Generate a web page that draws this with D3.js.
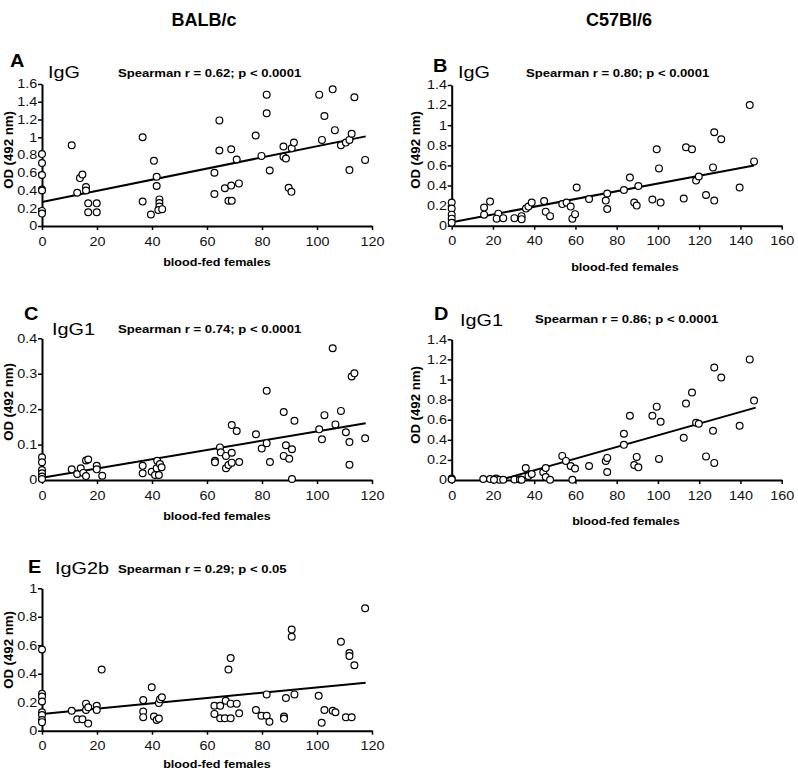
<!DOCTYPE html>
<html><head><meta charset="utf-8">
<script src="https://cdn.jsdelivr.net/npm/d3@7"></script>
<style>body{margin:0;background:#fff}svg{display:block}text{font-family:Arial,"Liberation Sans",sans-serif}</style>
</head><body><svg id="c" width="798" height="775"></svg>
<script>
// ---------------- DATA ----------------
const strains = ["BALB/c", "C57Bl/6"];
const panelLetters = ["A", "B", "C", "D", "E"];
const isotypes = ["IgG", "IgG", "IgG1", "IgG1", "IgG2b"];
const stats = ["Spearman r = 0.62; p < 0.0001", "Spearman r = 0.80; p < 0.0001",
  "Spearman r = 0.74; p < 0.0001", "Spearman r = 0.86; p < 0.0001", "Spearman r = 0.29; p < 0.05"];
const xLabel = "blood-fed females";
const yLabel = "OD (492 nm)";
const xTicksBalb = [0, 20, 40, 60, 80, 100, 120];
const xTicksC57 = [0, 20, 40, 60, 80, 100, 120, 140, 160];
const yTicksA = [0, 0.2, 0.4, 0.6, 0.8, 1, 1.2, 1.4, 1.6];
const yTicksB = [0, 0.2, 0.4, 0.6, 0.8, 1, 1.2, 1.4];
const yTicksC = [0, 0.1, 0.2, 0.3, 0.4];
const yTicksD = [0, 0.2, 0.4, 0.6, 0.8, 1, 1.2, 1.4];
const yTicksE = [0, 0.2, 0.4, 0.6, 0.8, 1];

const aX = [0,0,0,0,0,0,0, 10.8,13.8,14.7,16,16,12.8,16.8,16.8,19.9,19.9, 36.6,36.6,40.7,41.7,41.7,39.6,42.7,42.7,42.7,42.3,43.7,
  62.7,62.7,64.5,64.5,66.5,67.8,69,68.8,68.8,70.8,71.6,77.7,79.8,81.7,81.7,82.8,87.8,87.8,88.7,90.8,91.6,89.7,90.7,
  100.8,101.8,102.7,105.7,106.5,108.7,110.5,111.8,112.6,111.8,113.6,117.5];
const aY = [0.81,0.71,0.575,0.41,0.40,0.17,0.14, 0.91,0.54,0.58,0.44,0.40,0.375,0.255,0.155,0.255,0.155, 1.0,0.275,0.735,0.555,0.45,0.13,0.30,0.26,0.22,0.18,0.19,
  0.60,0.36,1.19,0.85,0.425,0.285,0.285,0.455,0.865,0.75,0.48,1.02,0.79,1.48,1.27,0.625,0.895,0.78,0.76,0.875,0.94,0.43,0.385,
  1.48,0.97,1.24,1.54,1.08,0.91,0.94,0.97,1.04,0.63,1.45,0.745];
const aFit = [[0, 0.27], [117.7, 1.01]];

const bX = [0,0,0,0,0, 15.7,15.7,18.6,22.6,21.8,25,30.4,33.9,33.9,36,37.2,38.8,44.8,45.6,47.7,53.6,55.7,57.7,58.5,59.8,60.6,66.6,
  74.7,75.4,75.4,83.5,86.4,88.5,89.7,90.5,97.3,99.4,100.5,101.3,112.5,113.6,116.5,118.5,119.8,123.3,126.7,127.3,127.3,130.7,139.6,144.5,146.6];
const bY = [0.23,0.17,0.11,0.07,0.03, 0.18,0.11,0.24,0.12,0.07,0.075,0.075,0.095,0.065,0.17,0.19,0.23,0.245,0.14,0.095,0.215,0.23,0.19,0.07,0.115,0.38,0.265,
  0.25,0.32,0.165,0.355,0.48,0.23,0.2,0.395,0.26,0.76,0.57,0.23,0.27,0.78,0.76,0.45,0.49,0.305,0.58,0.93,0.25,0.86,0.38,1.2,0.64];
const bFit = [[0, 0.035], [146.6, 0.6]];

const cX = [0,0,0,0,0,0, 10.8,12.8,14.1,15,16,16.8,16,19.9,19.9,21.9, 36.6,36.6,39.9,41.1,41.7,41.9,42.5,42.9,43.5,
  62.9,62.9,64.7,65,66.9,66.9,67.8,69,69,69,70.8,71.7,77.8,79.9,81.7,81.7,82.9,87.9,87.9,88.7,89.9,90.9,90.9,91.8,
  100.8,101.8,102.7,105.7,106.7,108.7,110.5,111.8,111.8,112.6,113.6,117.5];
const cY = [0.064,0.05,0.028,0.019,0.01,0.003, 0.03,0.017,0.033,0.02,0.055,0.058,0.011,0.04,0.03,0.012, 0.04,0.019,0.023,0.014,0.033,0.054,0.014,0.045,0.036,
  0.054,0.05,0.092,0.078,0.068,0.033,0.042,0.077,0.049,0.155,0.138,0.051,0.129,0.089,0.252,0.104,0.051,0.192,0.068,0.098,0.06,0.087,0.003,0.167,
  0.143,0.115,0.183,0.372,0.157,0.195,0.135,0.107,0.043,0.292,0.301,0.118];
const cFit = [[0, 0.0065], [117.7, 0.16]];

const dX = [0,0, 15.3,18.6,21.5,23.1,25,20.5,30.4,33.1,33.9,35.9,37.2,38.8,44.4,45.6,45.6,47.7,53.6,55.4,57.7,59.8,58.5,66.6,
  74.7,75.4,75.4,83.5,83.5,86.4,88.5,89.7,90.5,97.3,99.4,100.5,101.3,112.5,113.6,116.5,118.5,119.8,123.3,126.7,127.3,127.3,130.7,139.6,144.5,146.6];
const dY = [0.015,0.005, 0.01,0.01,0.015,0.003,0.003,0.003,0.005,0.005,0.003,0.12,0.04,0.06,0.077,0.12,0.03,0.003,0.24,0.19,0.14,0.115,0.003,0.14,
  0.19,0.22,0.08,0.46,0.35,0.64,0.15,0.23,0.126,0.64,0.73,0.21,0.58,0.42,0.76,0.87,0.57,0.56,0.235,0.49,1.12,0.17,1.02,0.54,1.2,0.79];
const dFit = [[23.3, 0], [147.4, 0.72]];

const eX = [0,0,0,0,0,0,0,0, 10.8,12.8,14.7,16,16,16.8,16.8,19.9,19.9,21.7, 36.8,36.8,36.8,39.9,40.7,41.7,42.5,42.5,42.9,43.6,
  62.7,62.7,64.8,64.8,66.8,66.5,67.8,68.6,68.6,68.6,70.8,71.7,77.8,79.8,81.7,81.7,82.7,88,88,88.7,90.8,90.8,91.8,
  100.6,101.7,102.7,105.7,106.7,108.7,110.5,112.6,111.8,111.8,113.6,117.5];
const eY = [0.57,0.26,0.24,0.205,0.13,0.11,0.075,0.06, 0.14,0.08,0.08,0.19,0.145,0.165,0.05,0.175,0.145,0.43, 0.215,0.135,0.095,0.305,0.1,0.075,0.085,0.195,0.22,0.235,
  0.175,0.118,0.175,0.087,0.21,0.087,0.43,0.51,0.19,0.087,0.19,0.122,0.145,0.105,0.105,0.255,0.063,0.1,0.085,0.23,0.71,0.66,0.255,
  0.245,0.056,0.145,0.14,0.13,0.625,0.094,0.094,0.545,0.525,0.46,0.86];
const eFit = [[0, 0.117], [117.7, 0.337]];

// ---------------- LAYOUT ----------------
const svg = d3.select("#c");
const FONT = 'Arial,"Liberation Sans",sans-serif';

function txt(x, y, s, size, weight, sx, anchor, rot) {
  return svg.append("text")
    .attr("transform", `translate(${x},${y})` + (rot ? ` rotate(${rot})` : "") + ` scale(${sx},1)`)
    .attr("font-size", size).attr("font-weight", weight || "normal")
    .attr("text-anchor", anchor || "start").attr("fill", "#000").text(s);
}

txt(204, 26, strains[0], 18, "bold", 1.0, "middle");
txt(619, 26, strains[1], 18, "bold", 1.0, "middle");

const panels = [
  {i:0, L:42, R:372, T:84, B:226, xd:[0,120], yd:[0,1.6], xt:xTicksBalb, yt:yTicksA, xs:aX, ys:aY, fit:aFit,
   letter:[10,67], iso:[48,78], st:[118,77], ylab:[9,150], xlab:[217,266]},
  {i:1, L:451.7, R:781.7, T:85, B:225.7, xd:[0,160], yd:[0,1.4], xt:xTicksC57, yt:yTicksB, xs:bX, ys:bY, fit:bFit,
   letter:[433,72], iso:[458,78], st:[526,77], ylab:[416,150], xlab:[625,271]},
  {i:2, L:42, R:372, T:338.3, B:480, xd:[0,120], yd:[0,0.4], xt:xTicksBalb, yt:yTicksC, xs:cX, ys:cY, fit:cFit,
   letter:[24,320], iso:[52,335], st:[118,333], ylab:[9,402], xlab:[217,520]},
  {i:3, L:451.7, R:781.7, T:339.3, B:480, xd:[0,160], yd:[0,1.4], xt:xTicksC57, yt:yTicksD, xs:dX, ys:dY, fit:dFit,
   letter:[434,320], iso:[460,326], st:[535,323], ylab:[416,405], xlab:[626,525]},
  {i:4, L:42, R:372, T:588.3, B:730.7, xd:[0,120], yd:[0,1], xt:xTicksBalb, yt:yTicksE, xs:eX, ys:eY, fit:eFit,
   letter:[28,573], iso:[55,574], st:[118,573], ylab:[9,650], xlab:[217,768]}
];

const fmt = d => d === 0 ? "0" : String(+d.toFixed(2));

panels.forEach(p => {
  const x = d3.scaleLinear().domain(p.xd).range([p.L, p.R]);
  const y = d3.scaleLinear().domain(p.yd).range([p.B, p.T]);
  const g = svg.append("g");

  const gx = g.append("g").attr("transform", `translate(0,${p.B})`)
    .call(d3.axisBottom(x).tickValues(p.xt).tickFormat(fmt).tickSize(4).tickSizeOuter(0));
  const gy = g.append("g").attr("transform", `translate(${p.L},0)`)
    .call(d3.axisLeft(y).tickValues(p.yt).tickFormat(fmt).tickSize(4).tickSizeOuter(0));
  [gx, gy].forEach(a => {
    a.select(".domain").attr("stroke", "#000").attr("stroke-width", 2);
    a.selectAll(".tick line").attr("stroke", "#000").attr("stroke-width", 1.5);
    a.selectAll(".tick text").attr("font-size", 12).attr("font-family", FONT).attr("fill", "#111")
      .attr("transform", "scale(1.2,1)");
  });
  gx.selectAll(".tick text").attr("dy", "1.05em");
  gy.selectAll(".tick text").attr("x", -4);

  // regression line
  g.append("line")
    .attr("x1", x(p.fit[0][0])).attr("y1", y(p.fit[0][1]))
    .attr("x2", x(p.fit[1][0])).attr("y2", y(p.fit[1][1]))
    .attr("stroke", "#000").attr("stroke-width", 2);

  // points
  g.selectAll("circle").data(p.xs.map((v, k) => [v, p.ys[k]])).join("circle")
    .attr("cx", d => x(d[0])).attr("cy", d => y(d[1])).attr("r", 3.4)
    .attr("fill", "#fff").attr("stroke", "#000").attr("stroke-width", 1.2);

  // labels
  txt(p.letter[0], p.letter[1], panelLetters[p.i], 19, "bold", 1.05);
  txt(p.iso[0], p.iso[1], isotypes[p.i], 16, "normal", 1.24);
  txt(p.st[0], p.st[1], stats[p.i], 11, "bold", 1.19);
  txt(p.ylab[0], p.ylab[1], yLabel, 12, "bold", 1.1, "middle", -90).attr("dy", "0.35em");
  txt(p.xlab[0], p.xlab[1], xLabel, 10.5, "bold", 1.2, "middle");
});
</script></body></html>
